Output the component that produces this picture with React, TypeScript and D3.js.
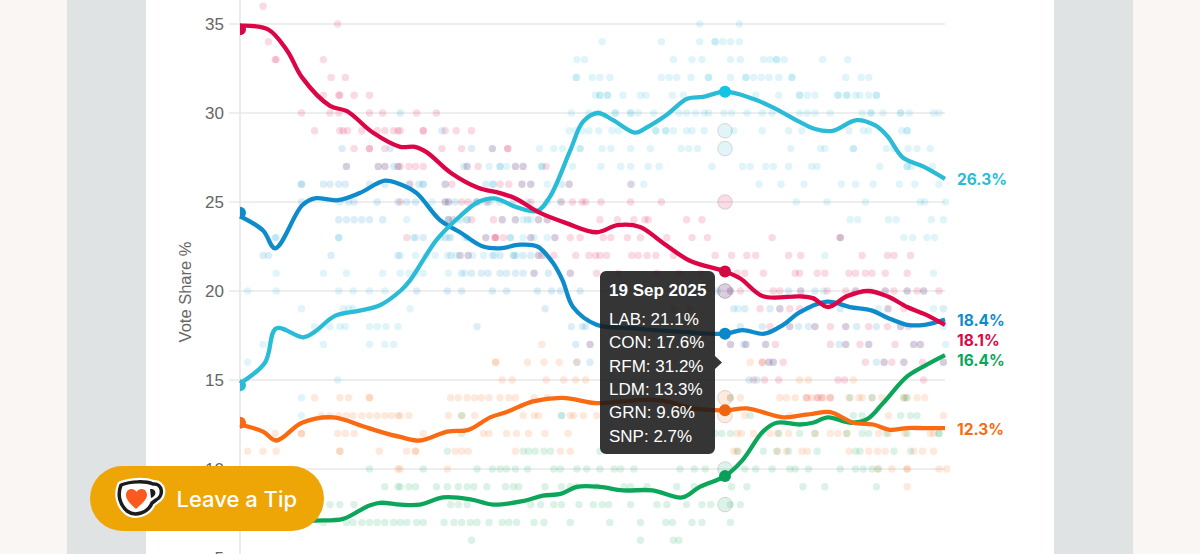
import * as React from 'react'
import { useEffect, useRef } from 'react'
import * as d3 from 'd3'

type Trend = [number, number][]
type PollRow = [number, number[]]

// x values are days since the 4 Jul 2024 general election
const lastDay = 642.5
const hoverDay = 442
const yTicks = [5, 10, 15, 20, 25, 30, 35]

const labTrend: Trend = [[0, 34.9], [25.5, 34.7], [43, 33.5], [56.5, 32], [82, 30.4], [97.5, 30.1], [121, 28.9], [146, 28.1], [159.5, 28.1], [170, 27.8], [193, 26.6], [217, 25.8], [237, 25.5], [251, 25.2], [273, 24.4], [298, 23.8], [325, 23.3], [344, 23.7], [364.5, 23.6], [385.5, 22.7], [410, 21.7], [442, 21.1], [456, 20.7], [476.6, 19.7], [510, 19.7], [522, 19.6], [536, 19.1], [553, 19.7], [572, 20], [590, 19.7], [608, 19.1], [624, 18.7], [642.5, 18.1]]
const conTrend: Trend = [[0, 24.2], [21, 23.4], [32, 22.4], [56.5, 24.8], [68, 25.2], [89, 25.1], [109, 25.5], [132, 26.2], [146, 26], [161, 25.5], [182, 24], [200.5, 23.3], [221.5, 22.5], [237, 22.4], [255, 22.6], [271, 22.5], [285, 21.6], [294, 20.6], [303.5, 19.1], [325, 18.1], [358, 17.9], [404, 17.7], [442, 17.6], [458, 17.8], [478, 17.6], [495, 18.1], [510, 18.8], [535, 19.4], [556, 19.1], [576, 18.9], [590, 18.5], [608, 18.1], [624, 18.1], [642.5, 18.4]]
const rfmTrend: Trend = [[0, 14.8], [23, 16], [33, 17.9], [57.5, 17.4], [68, 17.7], [86.5, 18.6], [109, 18.9], [127.5, 19.2], [146, 20], [155, 20.6], [179.5, 22.9], [200.5, 24.2], [217, 25], [232, 25.2], [252.5, 24.7], [271, 24.5], [282.5, 25.3], [301, 27.9], [312.5, 29.5], [326, 30], [340, 29.6], [360, 28.9], [371, 29.2], [389, 29.9], [407.5, 30.8], [422, 30.9], [442, 31.2], [467.5, 30.8], [486, 30.3], [510, 29.5], [524, 29.1], [540, 29], [562, 29.6], [579, 29.3], [590, 28.7], [604, 27.5], [622.5, 27], [642.5, 26.3]]
const ldmTrend: Trend = [[0, 12.5], [21, 12.1], [33, 11.6], [56.5, 12.6], [85, 12.9], [112, 12.4], [127.5, 12.1], [146, 11.8], [164, 11.6], [189, 12.1], [208, 12.2], [228, 12.9], [243, 13.2], [267, 13.8], [294, 14], [325, 13.7], [349, 13.8], [374, 13.9], [389, 13.8], [413, 13.4], [442, 13.3], [462, 13.4], [495, 12.9], [510, 13], [522, 13.1], [538, 13.2], [559, 12.6], [577, 12.5], [592, 12.2], [608, 12.3], [622.5, 12.3], [642.5, 12.3]]
const grnTrend: Trend = [[0, 7.3], [50, 7], [68, 7.1], [94, 7.2], [116, 7.9], [127.5, 8.1], [146, 8], [164, 8], [185, 8.4], [210, 8.3], [230.5, 8], [258, 8.2], [276, 8.5], [292, 8.6], [307, 9], [328, 9], [349, 8.8], [376, 8.8], [403, 8.4], [419, 9], [442, 9.6], [458, 10.5], [476.6, 12.1], [489, 12.6], [510, 12.5], [522, 12.6], [536, 12.9], [556, 12.6], [571.5, 12.8], [586, 13.7], [608, 15.2], [624, 15.8], [642.5, 16.4]]

const labPolls: PollRow[] = [
  [36, [21]], [35, [89]], [34, [26]], [33, [32, 33, 76]], [32, [83, 96]], [31, [76, 90, 91, 104, 118]],
  [30, [56, 82, 90, 118, 130, 161, 179]],
  [29, [68, 91, 94, 98, 111, 125, 132, 140, 144, 146, 167, 167, 187, 197, 211]],
  [28, [104, 118, 118, 132, 184, 202, 230, 244, 244]],
  [27, [97, 126, 132, 144, 146, 154, 160, 167, 207, 217, 251, 258, 279]],
  [26, [155, 187, 193, 237, 245, 257, 265, 300, 356]],
  [25, [146, 187, 190, 202, 208, 216, 226, 265, 293, 303, 312, 315, 329, 356, 384, 442]],
  [24, [190, 194, 211, 231, 239, 251, 272, 280, 328, 344, 359, 369, 372, 407, 421]],
  [23, [152, 224, 233, 233, 232, 240, 265, 287, 301, 310, 331, 338, 353, 365, 389, 412, 426, 485, 547, 547]],
  [22, [201, 208, 272, 275, 286, 306, 318, 324, 328, 334, 357, 363, 371, 379, 395, 433, 448, 462, 470, 500, 511, 567, 590, 596, 611]],
  [21, [268, 301, 325, 345, 380, 400, 420, 453, 460, 477, 506, 510, 526, 533, 555, 561, 570, 576, 588, 608]],
  [20, [447, 456, 486, 492, 511, 535, 552, 561, 588, 596, 608, 617, 623, 637]],
  [19, [395, 410, 474, 492, 501, 510, 591, 605]],
  [18, [483, 501, 524, 538, 552, 573, 590, 602, 609]],
  [17, [319, 447, 461, 479, 488, 538, 552, 565, 573, 597, 614, 620]],
  [16, [476, 482, 486, 495, 570, 587, 594, 605, 622, 641]],
  [15, [491, 545, 551, 623, 468, 478]],
  [14, [516, 526, 530, 538]],
]
const conPolls: PollRow[] = [
  [30, [146]], [29, [184]], [28, [93, 137, 211, 230]],
  [27, [97, 126, 132, 140, 144, 204, 207, 237, 251, 258, 275]],
  [26, [56, 56, 76, 82, 90, 96, 118, 132, 154, 163, 167, 187, 224, 231, 257, 265, 293, 300]],
  [25, [56, 91, 99, 104, 125, 144, 152, 160, 187, 190, 196, 216, 224, 237, 249, 280, 292]],
  [24, [90, 97, 104, 111, 118, 130, 190, 201, 207, 239, 251, 262, 272, 280]],
  [23, [32, 90, 160, 167, 187, 192, 207, 224, 246, 265, 287]],
  [22, [21, 26, 83, 144, 192, 200, 208, 230, 237, 249, 250, 258, 265, 272, 278]],
  [21, [202, 211, 220, 226, 237, 243, 251, 258, 268, 281, 301]],
  [20, [161, 189, 202, 230, 243, 271, 284, 292, 310, 435, 447, 500, 511, 524, 561, 588, 608, 623]],
  [19, [278, 450, 460, 483, 492, 547, 590, 641]],
  [18, [216, 302, 312, 315, 456, 476, 501, 509, 518, 524, 552, 562, 580, 602]],
  [17, [306, 319, 447, 459, 461, 479, 546, 573, 614, 620, 552]],
  [16, [307, 319, 482, 486, 580, 587, 605, 641]],
  [15, [464, 471]],
]
const rfmPolls: PollRow[] = [
  [35, [419, 455]],
  [34, [330, 384, 419, 433, 433, 440, 447, 455]],
  [33, [307, 314, 395, 412, 421, 447, 456, 477, 483, 489, 489, 496, 531, 554]],
  [32, [306, 307, 321, 328, 337, 384, 391, 398, 411, 427, 427, 447, 461, 461, 468, 475, 482, 491, 503, 503, 552, 566, 573]],
  [31, [324, 328, 328, 335, 335, 349, 365, 370, 394, 404, 470, 491, 510, 510, 517, 524, 545, 545, 553, 553, 561, 565, 573, 580, 580]],
  [30, [302, 318, 327, 342, 342, 356, 356, 363, 377, 400, 407, 415, 423, 427, 441, 448, 462, 476, 485, 510, 517, 524, 538, 567, 575, 575, 586, 602, 602, 610, 632, 637]],
  [29, [300, 306, 312, 318, 327, 339, 345, 379, 379, 388, 388, 395, 407, 412, 423, 442, 442, 450, 476, 500, 512, 555, 568, 573, 603, 608, 608]],
  [28, [273, 286, 294, 310, 310, 330, 338, 356, 374, 402, 409, 417, 442, 502, 529, 533, 559, 559, 589, 596, 609, 617, 629]],
  [27, [227, 237, 243, 275, 303, 329, 347, 356, 372, 382, 430, 458, 465, 479, 486, 500, 521, 526, 583, 608, 608, 612, 631]],
  [26, [167, 230, 280, 357, 368, 473, 493, 514, 548, 561, 577, 601, 615, 637]],
  [25, [175, 215, 228, 262, 507, 535, 570, 620, 624, 643]],
  [24, [152, 190, 197, 207, 258, 265, 556, 563, 591, 598, 630, 641]],
  [23, [33, 90, 158, 183, 190, 205, 247, 258, 268, 280, 547, 605, 613, 626, 633]],
  [22, [146, 160, 170, 178, 189, 197, 212, 222, 232, 252, 533]],
  [21, [33, 76, 97, 130, 146, 154, 160, 167, 190, 205, 632]],
  [20, [7, 33, 90, 103, 118, 132, 442, 532, 575]],
  [19, [56, 94, 99, 103, 155, 518, 582, 632, 454]],
  [18, [68, 82, 91, 96, 118, 125, 133, 144, 641]],
  [17, [21, 76, 118, 132, 140, 643]],
  [16, [7]], [15, [89]], [14, [56]], [13, [56, 293]],
]
const ldmPolls: PollRow[] = [
  [17, [275]],
  [16, [233, 233, 262, 277, 291, 307, 465, 476]],
  [15, [239, 248, 279, 295, 306, 315, 510, 518, 559]],
  [14, [68, 91, 99, 118, 118, 192, 199, 207, 214, 220, 227, 237, 245, 251, 268, 280, 442, 447, 456, 492, 498, 506, 517, 521, 527, 532, 538, 555, 564, 567, 576, 585, 605, 607, 617, 624]],
  [13, [74, 82, 90, 97, 103, 111, 118, 125, 132, 138, 144, 146, 154, 190, 202, 214, 258, 268, 272, 301, 304, 313, 325, 442, 460, 501, 591, 641]],
  [12, [32, 56, 56, 89, 96, 104, 167, 222, 227, 243, 252, 263, 278, 299, 453, 457, 468, 483, 490, 500, 524, 538, 545, 553, 582, 591, 606, 629, 632]],
  [11, [7, 21, 33, 91, 91, 127, 152, 160, 160, 196, 202, 208, 251, 292, 301, 450, 454, 490, 498, 512, 517, 555, 573, 581, 588, 614, 622, 632]],
  [10, [144, 146, 189, 581, 594, 608, 608, 637, 644]],
  [9, [608]],
]
const grnPolls: PollRow[] = [
  [14, [447, 556, 576, 605, 608]],
  [13, [202, 293, 465, 559, 567, 602, 611, 617]],
  [12, [202, 433, 439, 447, 491, 510, 524, 553, 567, 573, 589, 608, 637, 637]],
  [11, [189, 258, 263, 269, 277, 283, 328, 453, 477, 489, 500, 526, 561, 565, 596, 611]],
  [10, [118, 167, 216, 230, 237, 243, 251, 262, 286, 292, 307, 316, 328, 341, 347, 359, 401, 414, 424, 442, 460, 470, 485, 501, 506, 518, 547, 561, 568, 576, 582]],
  [9, [132, 144, 146, 154, 160, 179, 189, 199, 207, 213, 225, 242, 249, 254, 278, 293, 301, 307, 325, 350, 356, 371, 398, 414, 448, 462, 513, 533, 580]],
  [8, [82, 91, 104, 192, 199, 207, 265, 274, 286, 293, 309, 322, 330, 336, 356, 380, 389, 407, 421, 429, 442, 447, 456]],
  [7, [76, 97, 103, 111, 118, 125, 132, 140, 146, 152, 161, 167, 186, 195, 202, 210, 216, 227, 239, 245, 252, 268, 277, 301, 337, 365, 388, 394, 412, 421, 447]],
  [6, [211, 365, 395, 400]],
]

const seriesNames = ['LAB', 'CON', 'RFM', 'LDM', 'GRN']
const seriesColors = ['#dc0545', '#0e8bcb', '#2abbd6', '#f96a12', '#0ca65a']
const markerColors = ['#d10a44', '#0a87c9', '#12c4e6', '#ef6410', '#0a9f58']
const trends = [labTrend, conTrend, rfmTrend, ldmTrend, grnTrend]
const polls = [labPolls, conPolls, rfmPolls, ldmPolls, grnPolls]
const startShares = [34.7, 24.4, 14.7, 12.6, 7.0]
const hoverShares = [21.1, 17.6, 31.2, 13.3, 9.6]
const endLabels = ['18.1%', '18.4%', '26.3%', '12.3%', '16.4%']
const endLabelY = [340, 320, 179, 429, 360]
const hoverPolls: [number, number][] = [[0, 25], [1, 20], [0, 20], [2, 29], [2, 28], [3, 14], [3, 13], [4, 10], [4, 8]]

const tooltipDate = '19 Sep 2025'
const tooltipRows = ['LAB: 21.1%', 'CON: 17.6%', 'RFM: 31.2%', 'LDM: 13.3%', 'GRN: 9.6%', 'SNP: 2.7%']

export default function App() {
  const svgRef = useRef<SVGSVGElement>(null)

  useEffect(() => {
    if (!svgRef.current) return
    const svg = d3.select(svgRef.current)
    svg.selectAll('*').remove()

    const x = d3.scaleLinear().domain([0, lastDay]).range([240, 945])
    const y = d3.scaleLinear().domain([5, 35]).range([558, 24])

    // page panels
    svg.append('rect').attr('width', 1200).attr('height', 554).attr('fill', '#faf6f3')
    svg.append('rect').attr('x', 67).attr('width', 1066).attr('height', 554).attr('fill', '#e0e3e3')
    svg.append('rect').attr('x', 146).attr('width', 908).attr('height', 554).attr('fill', '#ffffff')

    // grid lines + axis
    svg.append('g')
      .selectAll('line')
      .data(yTicks)
      .join('line')
      .attr('x1', 229)
      .attr('x2', 945)
      .attr('y1', d => y(d))
      .attr('y2', d => y(d))
      .attr('stroke', '#e8e8e8')
      .attr('stroke-width', 1.5)

    const axis = svg.append('g')
      .attr('transform', 'translate(240,0)')
      .call(d3.axisLeft(y).tickValues(yTicks).tickSize(0).tickPadding(16) as any)
    axis.select('.domain').remove()
    axis.selectAll('text')
      .attr('font-family', '"Liberation Sans", sans-serif')
      .attr('font-size', 17)
      .attr('fill', '#666666')

    svg.append('line')
      .attr('x1', 240)
      .attr('x2', 240)
      .attr('y1', 0)
      .attr('y2', 554)
      .attr('stroke', '#e4e4e4')
      .attr('stroke-width', 1.5)

    svg.append('text')
      .attr('transform', 'translate(190.5,292) rotate(-90)')
      .attr('text-anchor', 'middle')
      .attr('font-family', '"Liberation Sans", sans-serif')
      .attr('font-size', 16.5)
      .attr('fill', '#666666')
      .text('Vote Share %')

    // poll dots, the hovered date is drawn on its own below
    polls.forEach((rows, i) => {
      const dots = rows
        .flatMap(([share, days]) => days.map(day => ({ share, day })))
        .filter(d => d.day !== hoverDay)
      svg.append('g')
        .selectAll('circle')
        .data(dots)
        .join('circle')
        .attr('cx', d => x(d.day))
        .attr('cy', d => y(d.share))
        .attr('r', 3.7)
        .attr('fill', seriesColors[i])
        .attr('opacity', 0.15)
    })

    // highlighted polls of the hovered date
    svg.append('g')
      .selectAll('circle')
      .data(hoverPolls)
      .join('circle')
      .attr('cx', x(hoverDay))
      .attr('cy', d => y(d[1]))
      .attr('r', 7.3)
      .attr('fill', d => seriesColors[d[0]])
      .attr('fill-opacity', 0.14)
      .attr('stroke', '#8a8a8a')
      .attr('stroke-opacity', 0.3)
      .attr('stroke-width', 1)

    // start markers are cut off by the plot edge
    svg.append('clipPath')
      .attr('id', 'plot-clip')
      .append('rect')
      .attr('x', 240)
      .attr('y', 0)
      .attr('width', 720)
      .attr('height', 554)

    svg.append('g')
      .attr('clip-path', 'url(#plot-clip)')
      .selectAll('circle')
      .data(startShares)
      .join('circle')
      .attr('cx', x(0))
      .attr('cy', d => y(d))
      .attr('r', 6)
      .attr('fill', (_, i) => seriesColors[i])

    // trend lines
    const line = d3.line<[number, number]>()
      .x(d => x(d[0]))
      .y(d => y(d[1]))
      .curve(d3.curveCatmullRom.alpha(0.5))

    const lineOrder = [4, 3, 1, 2, 0]
    lineOrder.forEach(i => {
      svg.append('path')
        .attr('d', line(trends[i]))
        .attr('fill', 'none')
        .attr('stroke', seriesColors[i])
        .attr('stroke-width', 4.3)
        .attr('stroke-linejoin', 'round')
        .attr('aria-label', seriesNames[i])
    })

    svg.append('g')
      .selectAll('circle')
      .data(hoverShares)
      .join('circle')
      .attr('cx', x(hoverDay))
      .attr('cy', d => y(d))
      .attr('r', 6)
      .attr('fill', (_, i) => markerColors[i])

    // end labels
    svg.append('g')
      .selectAll('text')
      .data(endLabels)
      .join('text')
      .attr('x', 957)
      .attr('y', (_, i) => endLabelY[i])
      .attr('dy', '0.36em')
      .attr('font-family', 'Inter, sans-serif')
      .attr('font-size', 15.5)
      .attr('font-weight', 700)
      .attr('fill', (_, i) => seriesColors[i])
      .text(d => d)

    // tooltip
    const tip = svg.append('g')
    tip.append('path')
      .attr('d', 'M606 271 H709 a6 6 0 0 1 6 6 V356 L722 362.500 L715 369 V448 a6 6 0 0 1 -6 6 H606 a6 6 0 0 1 -6 -6 V277 a6 6 0 0 1 6 -6 Z')
      .attr('fill', 'rgb(25,25,25)')
      .attr('fill-opacity', 0.88)
    tip.append('text')
      .attr('x', 609)
      .attr('y', 296)
      .attr('font-family', '"Liberation Sans", sans-serif')
      .attr('font-size', 17)
      .attr('font-weight', 700)
      .attr('fill', '#ffffff')
      .text(tooltipDate)
    tip.selectAll('text.row')
      .data(tooltipRows)
      .join('text')
      .attr('class', 'row')
      .attr('x', 609)
      .attr('y', (_, i) => 325 + i * 23.3)
      .attr('font-family', '"Liberation Sans", sans-serif')
      .attr('font-size', 17)
      .attr('fill', '#ffffff')
      .text(d => d)

    // tip button
    const button = svg.append('g')
    button.append('rect')
      .attr('x', 90)
      .attr('y', 466)
      .attr('width', 234)
      .attr('height', 65)
      .attr('rx', 32.5)
      .attr('fill', '#eea606')

    const cup = 'M121 485 C131 481 146 481 153 484 C163 483 164 496 156 500 L152 503 C148 513 135 517 127 511 C120 505 117 495 121 485 Z'
    button.append('path').attr('d', cup).attr('fill', '#ffffff').attr('stroke', '#ffffff').attr('stroke-width', 8).attr('stroke-linejoin', 'round')
    button.append('path').attr('d', cup).attr('fill', '#ffffff').attr('stroke', '#1c1c1c').attr('stroke-width', 3.5).attr('stroke-linejoin', 'round')
    button.append('path').attr('d', 'M150 489 C156 488 158 495 151 498 Z').attr('fill', '#1c1c1c')
    button.append('path')
      .attr('d', 'M136 509 C129 503 126 499 126 495 C126 488 134 487 136.500 492 C139 487 147 488 147 495 C147 499 143 503 136 509 Z')
      .attr('fill', '#fb5a1e')

    button.append('text')
      .attr('x', 176.500)
      .attr('y', 507)
      .attr('font-family', 'Inter, sans-serif')
      .attr('font-size', 22)
      .attr('font-weight', 500)
      .attr('fill', '#ffffff')
      .text('Leave a Tip')
  }, [])

  return (
    <svg
      ref={svgRef}
      width={1200}
      height={554}
      style={{ position: 'fixed', left: 0, top: 0, display: 'block' }}
    />
  )
}
